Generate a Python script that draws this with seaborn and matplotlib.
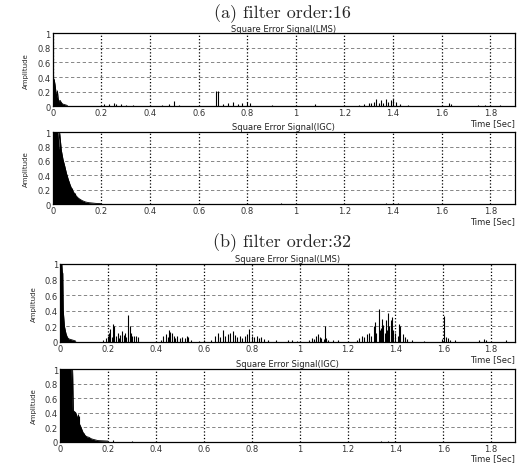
import matplotlib
matplotlib.use('Agg')
import matplotlib.pyplot as plt
import seaborn as sns

sns.set_style('white')
plt.rcParams['font.family'] = ['DejaVu Sans']

# (a) filter order 16, LMS: dense start + isolated spikes
t_env_lms16 = [0.0, 0.003, 0.006, 0.009, 0.012, 0.014, 0.016, 0.019, 0.022, 0.026, 0.03, 0.035, 0.04, 0.05, 0.06]
a_env_lms16 = [0.39, 0.38, 0.36, 0.30, 0.22, 0.15, 0.12, 0.21, 0.10, 0.06, 0.08, 0.05, 0.03, 0.02, 0.01]
t_sp_lms16 = [0.21, 0.23, 0.25, 0.26, 0.28, 0.30, 0.33, 0.45, 0.48, 0.50, 0.52, 0.673, 0.68, 0.70, 0.72,
              0.74, 0.76, 0.78, 0.80, 0.81, 0.90, 1.08, 1.26, 1.28, 1.30, 1.31, 1.32, 1.33, 1.34, 1.35,
              1.36, 1.37, 1.38, 1.39, 1.40, 1.41, 1.43, 1.46, 1.63, 1.64, 1.75, 1.78, 1.84]
a_sp_lms16 = [0.03, 0.03, 0.05, 0.03, 0.03, 0.02, 0.015, 0.02, 0.03, 0.07, 0.02, 0.21, 0.21, 0.03, 0.04,
              0.06, 0.03, 0.04, 0.06, 0.04, 0.015, 0.03, 0.02, 0.03, 0.04, 0.05, 0.06, 0.10, 0.05, 0.09,
              0.04, 0.10, 0.06, 0.08, 0.10, 0.06, 0.03, 0.015, 0.05, 0.03, 0.015, 0.02, 0.015]

# (a) filter order 16, IGC
t_env_igc16 = [0.0, 0.021, 0.024, 0.028, 0.035, 0.042, 0.049, 0.056, 0.063, 0.071, 0.078, 0.085,
               0.092, 0.10, 0.106, 0.12, 0.134, 0.148, 0.177, 0.20]
a_env_igc16 = [1.0, 1.0, 0.76, 1.0, 0.75, 0.62, 0.53, 0.43, 0.35, 0.27, 0.21, 0.17,
               0.13, 0.10, 0.08, 0.05, 0.03, 0.02, 0.01, 0.005]
t_sp_igc16 = [0.08, 0.09, 0.30, 0.80, 0.94, 1.37, 1.40, 1.42]
a_sp_igc16 = [0.22, 0.15, 0.008, 0.015, 0.01, 0.015, 0.02, 0.01]

# (b) filter order 32, LMS
t_env_lms32 = [0.0, 0.007, 0.009, 0.011, 0.013, 0.015, 0.018, 0.022, 0.025, 0.03, 0.035, 0.045, 0.056, 0.065]
a_env_lms32 = [1.0, 1.0, 0.90, 0.88, 0.40, 0.32, 0.20, 0.14, 0.10, 0.06, 0.04, 0.03, 0.02, 0.01]
t_sp_lms32 = [0.18, 0.19, 0.20, 0.205, 0.21, 0.215, 0.221, 0.226, 0.232, 0.24, 0.245, 0.25, 0.258, 0.265,
              0.27, 0.276, 0.283, 0.29, 0.296, 0.302, 0.31, 0.318, 0.325,
              0.42, 0.43, 0.44, 0.45, 0.455, 0.46, 0.468, 0.475, 0.48, 0.49, 0.50, 0.51, 0.52, 0.53, 0.535, 0.545,
              0.58, 0.60,
              0.63, 0.645, 0.66, 0.668, 0.68, 0.69, 0.70, 0.71, 0.72, 0.73, 0.74, 0.75, 0.76, 0.77, 0.78,
              0.79, 0.80, 0.81, 0.82, 0.83, 0.84, 0.85, 0.87, 0.90,
              0.95, 0.97, 0.99,
              1.04, 1.05, 1.06, 1.07, 1.075, 1.085, 1.09, 1.10, 1.105, 1.11, 1.12, 1.14, 1.16,
              1.24, 1.25, 1.26, 1.27, 1.28, 1.29, 1.30, 1.31, 1.315, 1.32, 1.33, 1.335, 1.34, 1.345, 1.35,
              1.355, 1.36, 1.365, 1.37, 1.375, 1.38, 1.385, 1.39, 1.40, 1.41, 1.415, 1.42, 1.43, 1.44, 1.45,
              1.47, 1.52,
              1.595, 1.603, 1.61, 1.62, 1.63, 1.65,
              1.75, 1.77, 1.78, 1.86]
a_sp_lms32 = [0.03, 0.05, 0.08, 0.12, 0.16, 0.06, 0.23, 0.20, 0.08, 0.12, 0.05, 0.09, 0.14, 0.09,
              0.11, 0.06, 0.35, 0.21, 0.11, 0.07, 0.08, 0.07, 0.06,
              0.03, 0.08, 0.10, 0.06, 0.15, 0.13, 0.12, 0.07, 0.05, 0.08, 0.05, 0.06, 0.05, 0.08, 0.06, 0.02,
              0.015, 0.02,
              0.03, 0.07, 0.12, 0.06, 0.15, 0.08, 0.10, 0.12, 0.14, 0.09, 0.06, 0.08, 0.05, 0.07, 0.10,
              0.16, 0.08, 0.06, 0.07, 0.05, 0.06, 0.04, 0.03, 0.02,
              0.02, 0.03, 0.015,
              0.02, 0.05, 0.04, 0.08, 0.10, 0.06, 0.05, 0.04, 0.21, 0.05, 0.03, 0.02, 0.02,
              0.03, 0.05, 0.08, 0.06, 0.10, 0.12, 0.08, 0.20, 0.25, 0.12, 0.42, 0.15, 0.18, 0.30, 0.22,
              0.12, 0.28, 0.15, 0.37, 0.20, 0.28, 0.32, 0.15, 0.12, 0.08, 0.23, 0.20, 0.10, 0.06, 0.04,
              0.03, 0.015,
              0.04, 0.33, 0.06, 0.05, 0.03, 0.02,
              0.03, 0.04, 0.02, 0.025]

# (b) filter order 32, IGC
t_env_igc32 = [0.0, 0.046, 0.049, 0.052, 0.055, 0.058, 0.065, 0.073, 0.08, 0.087, 0.094, 0.10,
               0.11, 0.12, 0.13, 0.14, 0.158, 0.20]
a_env_igc32 = [1.0, 1.0, 0.42, 1.0, 0.43, 0.42, 0.40, 0.33, 0.25, 0.20, 0.14, 0.10,
               0.07, 0.06, 0.04, 0.03, 0.015, 0.008]
t_sp_igc32 = [0.062, 0.074, 0.078, 0.09, 0.098, 0.104, 0.22, 0.30, 1.34, 1.37, 1.40]
a_sp_igc32 = [0.41, 0.38, 0.36, 0.15, 0.12, 0.08, 0.02, 0.01, 0.01, 0.015, 0.01]

x_ticks = [0, 0.2, 0.4, 0.6, 0.8, 1.0, 1.2, 1.4, 1.6, 1.8]
x_labels = ['0', '0.2', '0.4', '0.6', '0.8', '1', '1.2', '1.4', '1.6', '1.8']
y_ticks = [0, 0.2, 0.4, 0.6, 0.8, 1.0]
y_labels = ['0', '0.2', '0.4', '0.6', '0.8', '1']

panels = [
    ([0.101, 0.769, 0.883, 0.157], 'Square Error Signal(LMS)', t_env_lms16, a_env_lms16, t_sp_lms16, a_sp_lms16),
    ([0.101, 0.558, 0.883, 0.155], 'Square Error Signal(IGC)', t_env_igc16, a_env_igc16, t_sp_igc16, a_sp_igc16),
    ([0.115, 0.261, 0.870, 0.168], 'Square Error Signal(LMS)', t_env_lms32, a_env_lms32, t_sp_lms32, a_sp_lms32),
    ([0.115, 0.046, 0.870, 0.156], 'Square Error Signal(IGC)', t_env_igc32, a_env_igc32, t_sp_igc32, a_sp_igc32),
]

fig = plt.figure(figsize=(5.23, 4.64), dpi=100)

for rect, title, t_env, a_env, t_sp, a_sp in panels:
    ax = fig.add_axes(rect)
    ax.fill_between(t_env, 0, a_env, color='black', lw=0)
    sns.lineplot(x=t_env, y=a_env, ax=ax, color='black', lw=0.6)
    ax.vlines(t_sp, 0, a_sp, color='black', lw=0.8)
    ax.set_xlim(0, 1.9)
    ax.set_ylim(0, 1)
    ax.set_xticks(x_ticks)
    ax.set_xticklabels(x_labels)
    ax.set_yticks(y_ticks)
    ax.set_yticklabels(y_labels)
    ax.tick_params(length=0, labelsize=6, pad=1.5, colors='#333333')
    ax.grid(axis='x', color='black', ls=':', lw=0.9)
    ax.grid(axis='y', color='0.45', ls=(0, (4, 3)), lw=0.6)
    for s in ax.spines.values():
        s.set_visible(True)
        s.set_color('black')
        s.set_linewidth(0.9)
    ax.set_title(title, fontsize=6, pad=2, color='#222222')
    ax.set_ylabel('Amplitude', fontsize=5, labelpad=6)
    ax.set_xlabel('')
    ax.annotate('Time [Sec]', xy=(1.0, 0.0), xycoords='axes fraction', xytext=(0, -8.5),
                textcoords='offset points', ha='right', va='top', fontsize=6)

fig.text(0.54, 0.970, '(a) filter order:16', family='cmr10', ha='center', va='center', fontsize=13)
fig.text(0.54, 0.476, '(b) filter order:32', family='cmr10', ha='center', va='center', fontsize=13)

fig.savefig('out.png', dpi=100)
